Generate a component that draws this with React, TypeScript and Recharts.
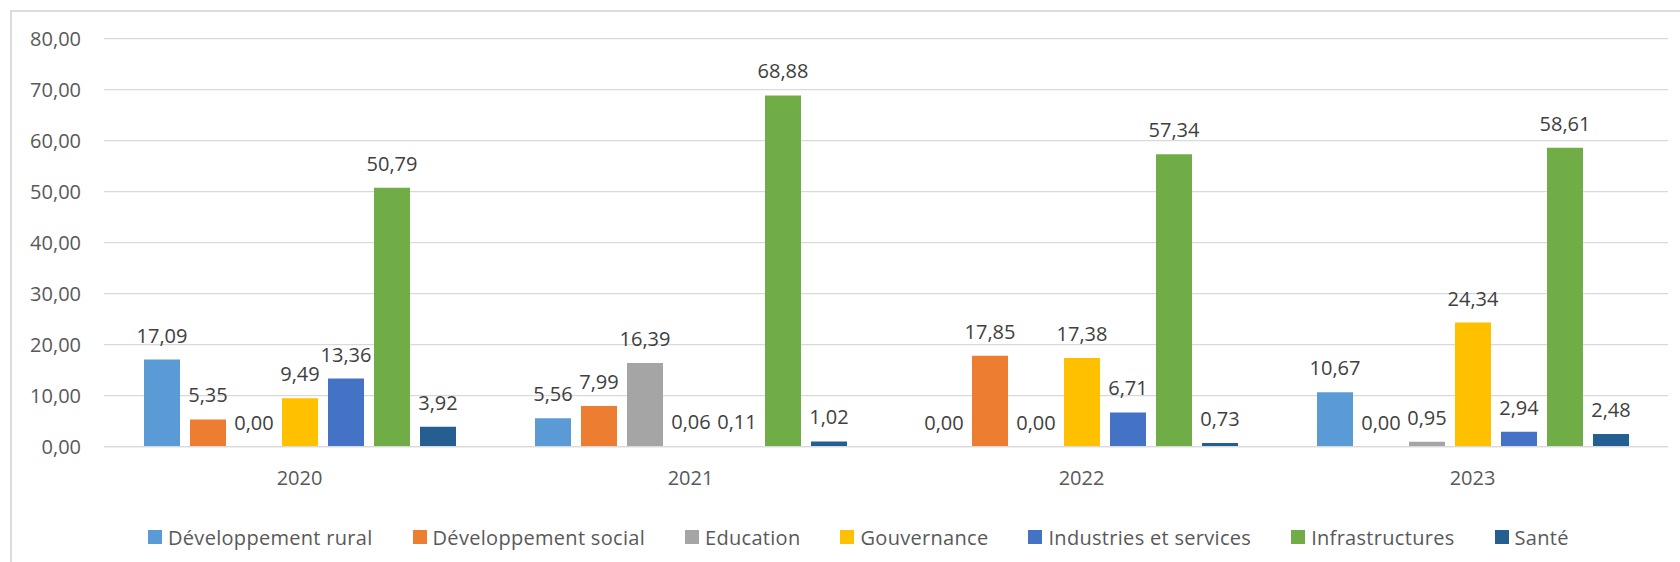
import React from 'react';
import { BarChart, Bar, XAxis, YAxis, CartesianGrid, Legend, LabelList } from 'recharts';

const categories = ['2020', '2021', '2022', '2023'];

const seriesNames = [
  'Développement rural',
  'Développement social',
  'Education',
  'Gouvernance',
  'Industries et services',
  'Infrastructures',
  'Santé',
];

const seriesColors = ['#5B9BD5', '#ED7D31', '#A5A5A5', '#FFC000', '#4472C4', '#70AD47', '#255E91'];

const developpementRural = [17.09, 5.56, 0.0, 10.67];
const developpementSocial = [5.35, 7.99, 17.85, 0.0];
const education = [0.0, 16.39, 0.0, 0.95];
const gouvernance = [9.49, 0.06, 17.38, 24.34];
const industriesServices = [13.36, 0.11, 6.71, 2.94];
const infrastructures = [50.79, 68.88, 57.34, 58.61];
const sante = [3.92, 1.02, 0.73, 2.48];

const yTicks = [0, 10, 20, 30, 40, 50, 60, 70, 80];

const seriesValues = [
  developpementRural,
  developpementSocial,
  education,
  gouvernance,
  industriesServices,
  infrastructures,
  sante,
];

const seriesKeys = ['s0', 's1', 's2', 's3', 's4', 's5', 's6'];

const data = categories.map((cat, i) => {
  const row: Record<string, string | number> = { category: cat };
  seriesKeys.forEach((k, j) => {
    row[k] = seriesValues[j][i];
  });
  return row;
});

const fmt = (v: any) => Number(v).toFixed(2).replace('.', ',');

const FONT = '"Open Sans", sans-serif';

const renderLegend = (props: any) => {
  const payload = props.payload || [];
  return (
    <div
      style={{
        display: 'flex',
        flexDirection: 'row',
        alignItems: 'center',
        height: 28,
        paddingLeft: 148,
        gap: 40,
        fontFamily: FONT,
        fontSize: 20,
        color: '#595959',
        letterSpacing: '0.3px',
        whiteSpace: 'nowrap',
      }}
    >
      {payload.map((entry: any, i: number) => (
        <div key={i} style={{ display: 'flex', alignItems: 'center' }}>
          <span
            style={{
              display: 'inline-block',
              width: 14,
              height: 14,
              background: entry.color,
              marginRight: 6,
            }}
          />
          <span>{entry.value}</span>
        </div>
      ))}
    </div>
  );
};

const renderLabel = (props: any) => {
  const { x, y, width, value } = props;
  if (value === undefined || value === null) return null;
  return (
    <text
      x={Number(x) + Number(width) / 2}
      y={Number(y) - 17}
      textAnchor="middle"
      fill="#404040"
      fontSize={20}
      fontFamily={FONT}
    >
      {fmt(value)}
    </text>
  );
};

export default function App() {
  return (
    <div
      style={{
        position: 'absolute',
        left: 0,
        top: 0,
        width: 1680,
        height: 562,
        overflow: 'hidden',
        background: '#ffffff',
        fontFamily: FONT,
      }}
    >
      <div
        style={{
          position: 'absolute',
          left: 10,
          top: 10,
          width: 1800,
          height: 700,
          borderLeft: '2px solid #dcdcdc',
          borderTop: '2px solid #dcdcdc',
        }}
      />
      <div style={{ position: 'absolute', left: 0, top: 0 }}>
        <BarChart
          width={1680}
          height={562}
          data={data}
          margin={{ top: 38.7, right: 12, bottom: 85.3, left: 0 }}
          barGap={10}
          barSize={36}
        >
          <CartesianGrid vertical={false} stroke="#d9d9d9" strokeWidth={1.3} />
          <XAxis
            dataKey="category"
            height={30}
            axisLine={{ stroke: '#d9d9d9', strokeWidth: 1.3 }}
            tickLine={false}
            tickSize={6}
            tickMargin={18}
            tick={{ fontSize: 20, fill: '#595959', fontFamily: FONT }}
          />
          <YAxis
            width={104}
            domain={[0, 80]}
            ticks={yTicks}
            interval={0}
            axisLine={false}
            tickLine={false}
            tickSize={6}
            tickMargin={17}
            tickFormatter={fmt}
            tick={{ fontSize: 20, fill: '#595959', fontFamily: FONT }}
          />
          <Legend
            layout="vertical"
            align="center"
            verticalAlign="middle"
            content={renderLegend}
            wrapperStyle={{ position: 'absolute', top: 523, left: 0, bottom: 'auto', width: 1680, height: 28 }}
          />
          {seriesKeys.map((k, j) => (
            <Bar
              key={k}
              dataKey={k}
              name={seriesNames[j]}
              fill={seriesColors[j]}
              isAnimationActive={false}
              legendType="square"
              minPointSize={0.01}
            >
              <LabelList dataKey={k} content={renderLabel} />
            </Bar>
          ))}
        </BarChart>
      </div>
    </div>
  );
}
